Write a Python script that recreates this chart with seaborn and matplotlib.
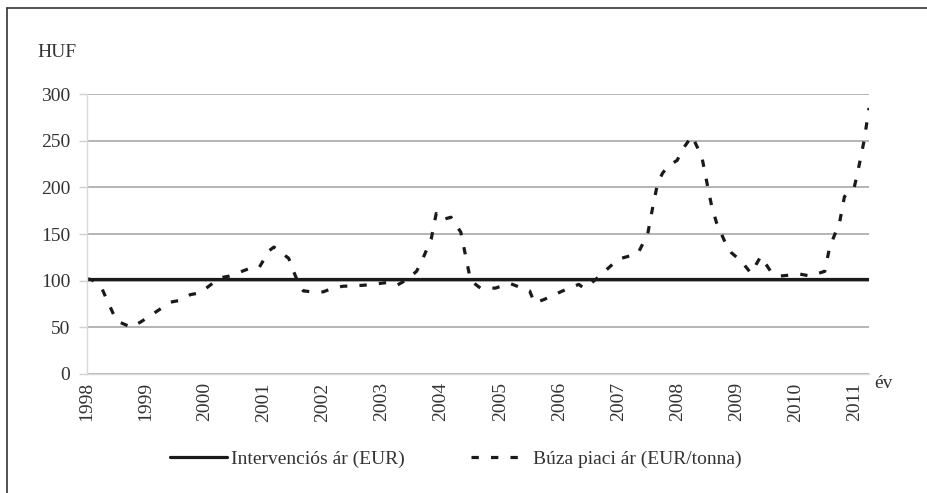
import matplotlib
matplotlib.use("Agg")
import matplotlib.pyplot as plt
from matplotlib.ticker import MultipleLocator, FixedLocator
import seaborn as sns
import pandas as pd

# monthly index, 0 = Jan 1998 (readings)
months = [0, 1, 3, 4, 6, 9, 11, 13, 17, 19, 21, 23, 24, 27, 29, 33, 35, 37, 38,
          41, 42, 43, 44, 46, 48, 50, 52, 56, 58, 61, 63, 65, 67, 68, 70, 71, 72,
          74, 76, 77, 78, 80, 83, 86, 88, 90, 91, 93, 95, 98, 100, 101, 102, 104,
          108, 110, 112, 114, 115, 116, 117, 118, 120, 121, 123, 125, 126, 127,
          128, 130, 131, 133, 135, 137, 139, 141, 145, 147, 150, 151, 153, 154,
          156, 157, 158, 159]
wheat_price = [102, 101, 92, 80, 57, 50, 56, 63, 77, 79, 85, 87, 91, 103, 105, 113,
               114, 132, 136, 124, 110, 97, 89, 88, 88, 92, 94, 95, 96, 98, 95, 101,
               110, 120, 145, 172, 165, 168, 152, 126, 100, 92, 92, 97, 93, 89, 76,
               80, 85, 92, 96, 92, 95, 104, 123, 126, 129, 150, 178, 204, 215, 222,
               229, 240, 255, 233, 206, 180, 162, 138, 130, 121, 108, 126, 110, 105,
               107, 105, 110, 136, 162, 190, 200, 224, 250, 285]
interv_price = [101.31] * len(months)

years = list(range(1998, 2012))
label_names = ["Intervenciós ár (EUR)", "Búza piaci ár (EUR/tonna)"]

df = pd.DataFrame({"month": months, "wheat": wheat_price, "interv": interv_price})

sns.set_style("white")
plt.rcParams["font.family"] = ["Liberation Serif", "DejaVu Serif"]
plt.rcParams["font.size"] = 14

fig = plt.figure(figsize=(9.28, 4.93), dpi=100)
ax = fig.add_axes([0.09375, 0.2414, 0.8427, 0.5679])

sns.lineplot(data=df, x="month", y="interv", ax=ax, color="#1a1a1a", linewidth=2.3,
             label=label_names[0])
sns.lineplot(data=df, x="month", y="wheat", ax=ax, color="#1a1a1a", linewidth=2.3,
             label=label_names[1])
ax.lines[1].set_dashes((2.3, 3.8))

ax.set_xlim(0, months[-1])
ax.set_ylim(0, 300)
ax.yaxis.set_major_locator(MultipleLocator(50))
ax.grid(axis="y", color="#b4b4b4", linewidth=1.4)
ax.set_axisbelow(True)

ax.set_xticks([(y - 1998) * 12 for y in years])
ax.set_xticklabels([str(y) for y in years], rotation=90, va="top", ha="center")
ax.xaxis.set_minor_locator(FixedLocator(list(range(0, months[-1] + 1, 10))))
ax.tick_params(axis="x", which="major", length=0, pad=6, labelsize=14, colors="#333333")
ax.tick_params(axis="x", which="minor", length=5, width=1, color="#d0d0d0", direction="out")
ax.tick_params(axis="y", which="major", length=6, width=1, color="#d0d0d0", pad=6,
               labelsize=14, labelcolor="#333333", left=True)

for side in ["top", "right"]:
    ax.spines[side].set_visible(False)
for side in ["left", "bottom"]:
    ax.spines[side].set_color("#d9d9d9")
    ax.spines[side].set_linewidth(1)

ax.set_xlabel("")
ax.set_ylabel("")
fig.text(0.0614, 0.8945, "HUF", ha="center", va="center", fontsize=14, color="#333333")
fig.text(0.9515, 0.222, "év", ha="center", va="center", fontsize=14, color="#333333")

leg = ax.legend(loc="center", bbox_to_anchor=(0.491, 0.069), bbox_transform=fig.transFigure,
                ncol=2, frameon=False, fontsize=14, handlelength=2.9, handletextpad=0.25,
                columnspacing=3.4)
for txt in leg.get_texts():
    txt.set_color("#333333")

# frame lines of the original figure (left and top only)
fig.add_artist(plt.Line2D([0.0075, 0.0075], [0, 0.984], color="#333333", linewidth=1.2))
fig.add_artist(plt.Line2D([0.0075, 1], [0.984, 0.984], color="#333333", linewidth=1.2))

fig.savefig("out.png", dpi=100)
